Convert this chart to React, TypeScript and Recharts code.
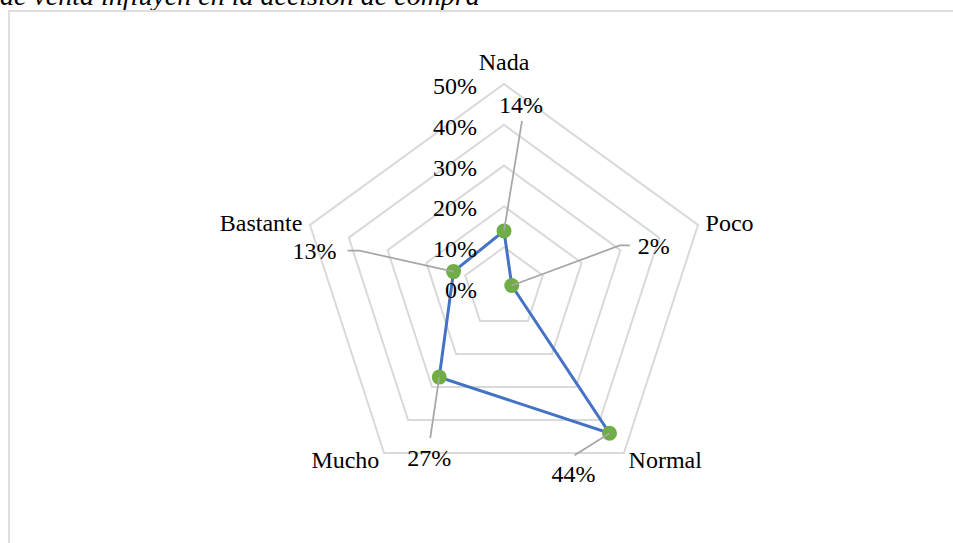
import React from 'react';
import { RadarChart, Radar, PolarGrid, PolarAngleAxis, PolarRadiusAxis } from 'recharts';

// Survey answers and their share of respondents (percent)
const categories = ['Nada', 'Poco', 'Normal', 'Mucho', 'Bastante'];
const shares = [14, 2, 44, 27, 13];
const radiusTicks = [0, 10, 20, 30, 40, 50];
const titleText = 'de venta influyen en la decisión de compra';

const data = categories.map((name, i) => ({ name, value: shares[i] }));

const pct = (v: number) => `${Math.round(v)}%`;

const FONT = '"Liberation Serif", "Times New Roman", serif';
const FS = 24;
const TITLE_FS = 28;
const LINE_COLOR = '#4472c4';
const DOT_COLOR = '#70ad47';
const GRID_COLOR = '#d9d9d9';
const LEADER_COLOR = '#a6a6a6';

// Leader line bends and label anchors, as offsets from each point
const labelLayout: { path: number[][]; text: number[]; anchor: 'start' | 'middle' | 'end' }[] = [
  { path: [[18, -110]], text: [17, -118], anchor: 'middle' },
  { path: [[108, -40], [118, -40]], text: [126, -31], anchor: 'start' },
  { path: [[-35, 22]], text: [-36, 49], anchor: 'middle' },
  { path: [[-9, 61]], text: [-10, 89], anchor: 'middle' },
  { path: [[-94, -21], [-106, -21]], text: [-117, -13], anchor: 'end' },
];

const AngleTick = (props: any) => {
  const { x, y, textAnchor, payload } = props;
  const isTop = textAnchor === 'middle';
  return (
    <text
      x={x}
      y={isTop ? y - 6 : y}
      dy={isTop ? 0 : '0.35em'}
      textAnchor={textAnchor}
      fontFamily={FONT}
      fontSize={FS}
      fill="#000"
    >
      {payload.value}
    </text>
  );
};

const RadiusTick = (props: any) => {
  const { x, y, payload } = props;
  return (
    <text
      x={x - 27}
      y={y + 1.5}
      dy="0.35em"
      textAnchor="end"
      fontFamily={FONT}
      fontSize={FS}
      fill="#000"
    >
      {pct(payload.value)}
    </text>
  );
};

// Green marker plus a gray leader line out to the value label
const PointWithLabel = (props: any) => {
  const { cx, cy, index, payload } = props;
  const layout = labelLayout[index];
  const value = payload && payload.value !== undefined ? payload.value : shares[index];
  const pts = [[cx, cy], ...layout.path.map(([dx, dy]) => [cx + dx, cy + dy])];
  return (
    <g key={`pt-${index}`}>
      <circle cx={cx} cy={cy} r={7.5} fill={DOT_COLOR} />
      <polyline
        points={pts.map((p) => p.join(',')).join(' ')}
        fill="none"
        stroke={LEADER_COLOR}
        strokeWidth={1.75}
      />
      <text
        x={cx + layout.text[0]}
        y={cy + layout.text[1]}
        textAnchor={layout.anchor}
        fontFamily={FONT}
        fontSize={FS}
        fill="#000"
      >
        {pct(value)}
      </text>
    </g>
  );
};

export default function App() {
  return (
    <div style={{ position: 'absolute', left: 0, top: 0, width: 953, height: 543, overflow: 'hidden', background: '#fff' }}>
      <div
        style={{
          position: 'absolute',
          left: 0,
          top: -18.4,
          fontFamily: FONT,
          fontStyle: 'italic',
          fontSize: TITLE_FS,
          lineHeight: `${TITLE_FS}px`,
          whiteSpace: 'nowrap',
          color: '#000',
        }}
      >
        {titleText}
      </div>
      <div
        style={{
          position: 'absolute',
          left: 8,
          top: 10,
          width: 960,
          height: 560,
          border: '2px solid #dedede',
          boxSizing: 'border-box',
        }}
      />
      <div style={{ position: 'absolute', left: 0, top: 0 }}>
        <RadarChart width={953} height={543} data={data} cx={504} cy={288} outerRadius={204} margin={{ top: 0, right: 0, bottom: 0, left: 0 }}>
          <PolarGrid gridType="polygon" radialLines={false} stroke={GRID_COLOR} strokeWidth={2} />
          <PolarAngleAxis dataKey="name" tick={AngleTick} tickLine={false} axisLine={false} />
          <PolarRadiusAxis
            type="number"
            angle={90}
            domain={[0, 50]}
            ticks={radiusTicks}
            tickCount={6}
            axisLine={false}
            tick={RadiusTick}
          />
          <Radar
            dataKey="value"
            stroke={LINE_COLOR}
            strokeWidth={3}
            fill="none"
            fillOpacity={0}
            dot={PointWithLabel}
            isAnimationActive={false}
          />
        </RadarChart>
      </div>
    </div>
  );
}
